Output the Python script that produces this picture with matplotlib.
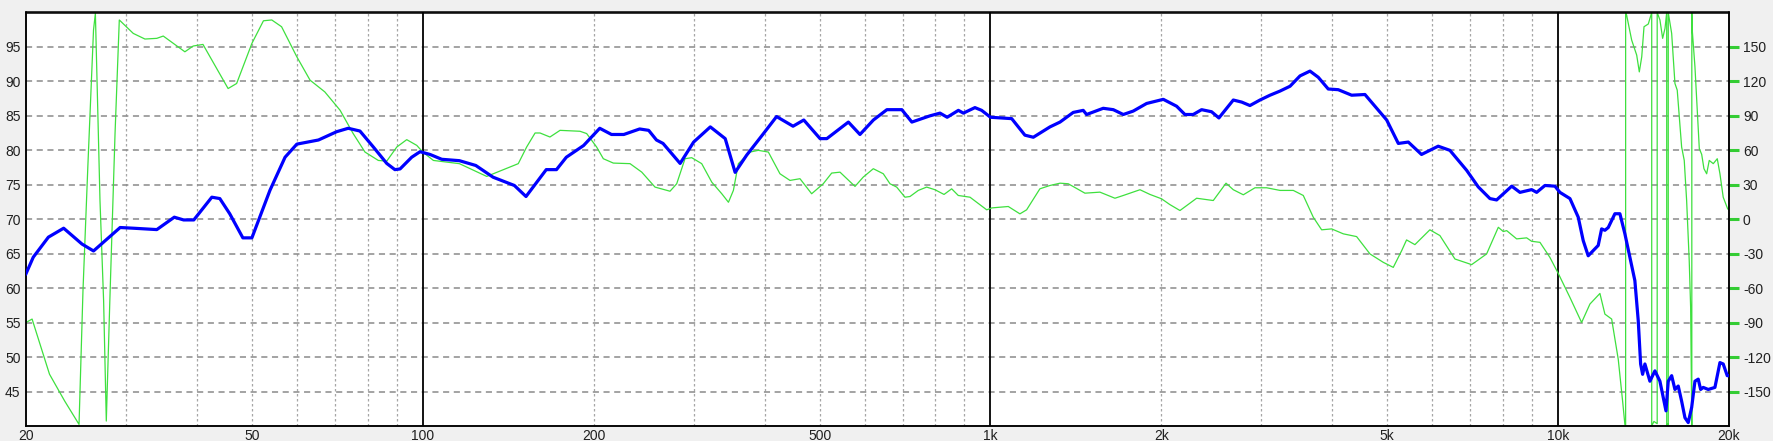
import matplotlib
matplotlib.use("Agg")
import matplotlib.pyplot as plt

# --- data (frequency in Hz) ---
spl_freq = [20, 20.6, 21.9, 23.3, 25.1, 26.3, 29.3, 30.9, 34.0, 36.5, 37.9, 39.5,
            42.5, 43.9, 45.7, 48.2, 50.0, 53.8, 57.2, 60.0, 65.5, 70.5, 73.9, 77.5,
            81.8, 86.4, 89.3, 91.2, 95.6, 98.9, 103, 108, 116, 124, 133, 145, 152,
            165, 172, 179, 192, 205, 215, 226, 241, 250, 258, 265, 284, 300, 321,
            341, 355, 372, 398, 420, 449, 469, 501, 515, 562, 589, 622, 657, 698,
            727, 782, 815, 839, 878, 896, 939, 965, 1000, 1090, 1150, 1190, 1273,
            1326, 1399, 1457, 1477, 1580, 1646, 1714, 1785, 1884, 2016, 2128, 2201,
            2276, 2355, 2452, 2526, 2678, 2771, 2865, 2984, 3108, 3237, 3371, 3510,
            3655, 3780, 3936, 4099, 4328, 4568, 4790, 4989, 5230, 5446, 5746, 6148,
            6447, 6900, 7232, 7584, 7792, 8284, 8566, 8982, 9166, 9480, 9872, 10074,
            10492, 10850, 11072, 11298, 11766, 11930, 12090, 12256, 12590, 12848,
            13110, 13378, 13652, 13840, 13975, 14088, 14220, 14511, 14809, 15113,
            15320, 15488, 15632, 15850, 16062, 16278, 16504, 16728, 16952, 17190,
            17420, 17654, 17826, 18014, 18384, 18890, 19278, 19536, 19858, 20000]
spl_db = [62.1, 64.5, 67.4, 68.7, 66.4, 65.4, 68.8, 68.7, 68.5, 70.3, 69.9, 69.9,
          73.2, 73.0, 70.8, 67.3, 67.3, 74.2, 79.0, 80.9, 81.5, 82.7, 83.2, 82.8,
          80.5, 78.1, 77.2, 77.3, 79.0, 79.8, 79.4, 78.7, 78.5, 77.8, 76.1, 74.9, 73.3,
          77.2, 77.2, 79.0, 80.7, 83.2, 82.3, 82.3, 83.1, 82.9, 81.5, 81.0, 78.1, 81.2, 83.4,
          81.7, 76.8, 79.3, 82.4, 84.9, 83.5, 84.4, 81.7, 81.7, 84.1, 82.3, 84.4, 85.9, 85.9,
          84.1, 85.0, 85.4, 84.8, 85.8, 85.4, 86.2, 85.8, 84.8, 84.6, 82.2, 81.9, 83.4,
          84.1, 85.5, 85.8, 85.2, 86.1, 85.9, 85.2, 85.7, 86.8, 87.4, 86.4, 85.2,
          85.2, 85.9, 85.6, 84.7, 87.3, 87.0, 86.5, 87.3, 88.0, 88.6, 89.3, 90.8,
          91.5, 90.6, 88.9, 88.8, 88.0, 88.1, 86.1, 84.4, 81.0, 81.2, 79.4, 80.6,
          80.0, 77.1, 74.7, 73.0, 72.8, 74.8, 73.9, 74.3, 73.9, 74.9, 74.8, 73.9,
          73.0, 70.3, 66.9, 64.7, 66.2, 68.6, 68.4, 68.8, 70.8, 70.8,
          67.9, 64.5, 61.1, 55.3, 49.0, 47.5, 49.0, 46.5, 48.0, 46.5,
          44.1, 42.2, 46.5, 47.3, 45.3, 45.8, 43.6, 41.2, 40.5, 42.7,
          46.5, 46.8, 45.3, 45.6, 45.3, 45.6, 49.2, 49.0, 47.3, 47.3]

phase_freq = [20, 20.5, 22.0, 23.4, 24.8, 25.2, 25.7, 26.3, 26.5, 27.0, 27.4, 27.7,
              28.1, 28.7, 29.2, 30.9, 32.4, 34.0, 34.9, 38.1, 39.4, 41.0, 44.2, 45.4,
              47.0, 50.0, 52.4, 54.2, 56.4, 60.0, 63.3, 67.2, 71.5, 75.4, 79.1, 83.5,
              86.4, 90.0, 93.7, 97.6, 100, 104.4, 116, 129.6, 147.3, 152.4, 157.7,
              160.9, 167.5, 174.5, 189.2, 194.4, 202.4, 208, 216.6, 231.8, 243.1,
              256.5, 272.6, 280.1, 289.7, 297.7, 310, 322.9, 336.3, 345.5, 352.5,
              359.7, 377.2, 390, 406.2, 425.8, 443.5, 461.8, 484.2, 507.5, 525.2,
              543.2, 577.3, 596.9, 621.8, 647.5, 665.3, 683.6, 707, 721.5, 746.2, 772,
              798.6, 828.4, 854.5, 877.6, 920.4, 985, 1006, 1075, 1127, 1158, 1222,
              1273, 1326, 1371, 1438, 1467, 1559, 1657, 1714, 1834, 1910, 2002, 2070,
              2157, 2308, 2469, 2600, 2678, 2789, 2924, 3066, 3237, 3416, 3557, 3704,
              3832, 3991, 4184, 4416, 4662, 4920, 5124, 5302, 5408, 5594, 5944, 6191,
              6580, 7042, 7482, 7846, 8006, 8117, 8452, 8802, 8982, 9290, 9672, 10004,
              10492, 11000, 11378, 11848, 12090, 12426, 12762, 12990, 13110,
              13150, 13150, 13202, 13476, 13754, 13900, 14038, 14168, 14417, 14574,
              14618, 14618, 14750, 14946, 14946, 15113, 15280, 15428, 15534, 15534,
              15600, 15632, 15632, 15850, 16062, 16212, 16504, 16680, 16842, 17020,
              17118, 17190, 17200, 17200, 17230, 17420, 17580, 17730, 17902, 18068,
              18268, 18460, 18764, 19070, 19278, 19536, 19890, 20000]
phase_deg = [-89.9, -86.9, -134.9, -158.3, -178.6, -62.2, 45.4, 164.7, 179.3, 16.3, -71.0, -175.7,
             -71.0, 74.6, 173.5, 161.8, 156.9, 157.5, 159.5, 145.8, 150.8, 152.2, 124.0, 113.8,
             118.2, 153.1, 172.8, 173.5, 167.6, 141.4, 121.1, 110.9, 94.9, 74.6, 58.5, 51.2,
             50.6, 62.9, 69.3, 64.3, 58.5, 51.2, 48.4, 37.3, 48.4, 62.9, 75.1,
             75.1, 71.6, 77.4, 76.6, 74.6, 62.9, 52.7, 48.9, 48.4, 41.0,
             28.0, 24.4, 30.9, 52.7, 53.6, 48.4, 32.3, 22.2, 14.8, 25.1,
             48.4, 58.5, 60.0, 58.5, 39.6, 33.8, 35.3, 22.2, 30.9, 40.2,
             41.0, 28.6, 36.7, 44.0, 39.6, 30.9, 28.0, 19.2, 19.8, 25.1, 28.0,
             25.7, 21.6, 26.5, 20.7, 19.2, 8.2, 9.9, 11.1, 4.7, 8.2, 26.5,
             29.4, 31.4, 30.9, 25.1, 22.7, 23.6, 18.3, 20.7, 25.7, 21.6, 17.8, 12.8,
             7.6, 18.3, 16.3, 31.4, 25.7, 21.3, 27.4, 27.4, 25.1, 25.1, 20.7, 1.8,
             -9.2, -8.4, -12.7, -15.1, -30.2, -37.5, -41.9, -27.3, -18.0, -22.1, -9.2, -14.2,
             -34.6, -39.5, -30.2, -7.0, -10.7, -9.9, -17.1, -16.2, -19.2, -20.1, -33.2, -47.1,
             -68.1, -89.9, -73.8, -64.6, -82.6, -86.9, -121.9, -158.3, -178.6,
             -180, 180, 177.8, 156.0, 142.9, 128.3, 141.4, 167.6, 170.0, 177.8,
             180, -180, -176.0, -178.0, 180, 173.5, 157.5, 166.2, 180, -180,
             -178.0, -180, 180, 161.8, 118.2, 112.4, 62.9, 51.2, 16.3, -36.0,
             -76.8, -167.0, -180, 180, 164.7, 132.7, 94.9, 61.5, 56.5, 44.0,
             39.6, 51.2, 48.4, 52.7, 39.6, 19.2, 9.1, 8.0]

freq_ticks = [20, 50, 100, 200, 500, 1000, 2000, 5000, 10000, 20000]
freq_labels = ["20", "50", "100", "200", "500", "1k", "2k", "5k", "10k", "20k"]
db_ticks = [45, 50, 55, 60, 65, 70, 75, 80, 85, 90, 95]
phase_ticks = [-150, -120, -90, -60, -30, 0, 30, 60, 90, 120, 150]
minor_grid = [30, 40, 50, 60, 70, 80, 90,
              200, 300, 400, 500, 600, 700, 800, 900,
              2000, 3000, 4000, 5000, 6000, 7000, 8000, 9000]
major_grid = [100, 1000, 10000]

plt.rcParams['font.family'] = ['Liberation Sans', 'DejaVu Sans']

fig = plt.figure(figsize=(17.73, 4.41), dpi=100, facecolor="#f0f0f0")
rect = [26 / 1773, 15 / 441, 1703 / 1773, 413.5 / 441]
ax = fig.add_axes(rect)
ax2 = ax.twinx()

# phase axis underneath, white background, carries the grid
ax2.set_zorder(1)
ax.set_zorder(2)
ax.patch.set_visible(False)
ax2.patch.set_visible(True)
ax2.set_facecolor("white")

ax.set_xscale("log")
ax.set_xlim(20, 20000)
ax.set_ylim(40, 100)
ax2.set_ylim(-180, 180)

for f in minor_grid:
    ax2.axvline(f, color="#a6a6a6", lw=0.9, ls=(0, (2, 2)), zorder=0)
for f in major_grid:
    ax2.axvline(f, color="black", lw=1.3, zorder=0.5)
for p in phase_ticks:
    ax2.axhline(p, color="#8a8a8a", lw=1.1, ls=(0, (4, 3)), zorder=0)

ax2.plot(phase_freq, phase_deg, color="#3ee03e", lw=0.9, zorder=2)
ax.plot(spl_freq, spl_db, color="#0000ff", lw=2.3, zorder=3)

ax.set_xticks(freq_ticks)
ax.set_xticklabels(freq_labels)
ax.xaxis.set_minor_locator(plt.NullLocator())
ax.set_yticks(db_ticks)
ax.set_yticklabels([str(v) for v in db_ticks])
ax.tick_params(axis="x", length=0, pad=2, labelsize=10, labelcolor="#202020")
ax.tick_params(axis="y", length=0, pad=4, labelsize=10, labelcolor="#202020")

ax2.set_yticks(phase_ticks)
ax2.set_yticklabels([str(v) for v in phase_ticks])
ax2.tick_params(axis="y", direction="out", length=7, width=2.2, color="#33cc33",
                pad=3, labelsize=10, labelcolor="#202020")

for a in (ax, ax2):
    for s in a.spines.values():
        s.set_color("black")
        s.set_linewidth(1.1)

fig.savefig("out.png", dpi=100, facecolor=fig.get_facecolor())
